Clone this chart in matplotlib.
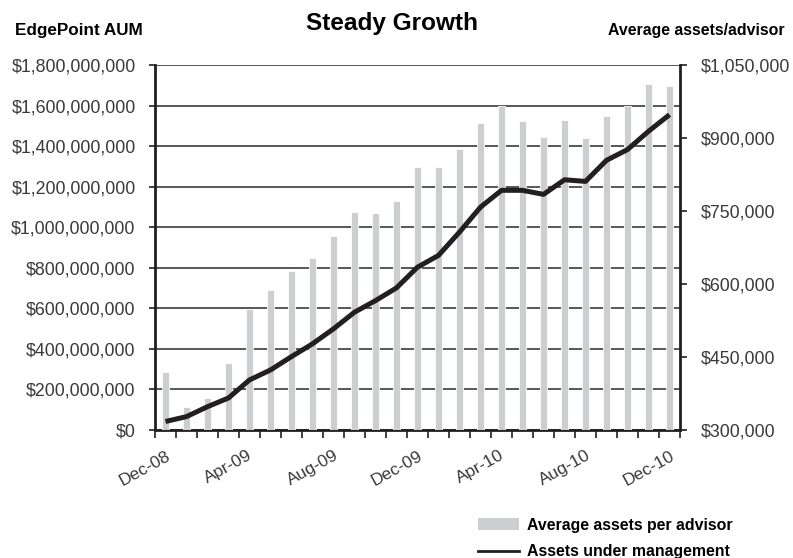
import matplotlib
matplotlib.use("Agg")
import matplotlib.pyplot as plt
import matplotlib.transforms as mtransforms
from matplotlib.ticker import FuncFormatter, MultipleLocator, FixedLocator
from matplotlib.patches import Patch
from matplotlib.lines import Line2D

months = ["Dec-08", "Jan-09", "Feb-09", "Mar-09", "Apr-09", "May-09", "Jun-09",
          "Jul-09", "Aug-09", "Sep-09", "Oct-09", "Nov-09", "Dec-09", "Jan-10",
          "Feb-10", "Mar-10", "Apr-10", "May-10", "Jun-10", "Jul-10", "Aug-10",
          "Sep-10", "Oct-10", "Nov-10", "Dec-10"]

# average assets per advisor ($)
avg_per_advisor = [420000, 347000, 366000, 438000, 548000, 587000, 627000,
                   654000, 699000, 748000, 745000, 771000, 840000, 840000,
                   878000, 930000, 965000, 934000, 903000, 938000, 900000,
                   945000, 965000, 1010000, 1006000]

# total assets under management ($)
aum = [42e6, 66e6, 115e6, 158e6, 247e6, 296e6, 362e6, 425e6, 499e6, 581e6,
       638e6, 701e6, 803e6, 861e6, 976e6, 1099e6, 1182e6, 1182e6, 1162e6,
       1234e6, 1226e6, 1330e6, 1383e6, 1473e6, 1555e6]

label_every = 4

BAR_GREY = "#cdcecf"
INK = "#231f20"
TEXT = "#3a3a3a"
HEAD_FONT = ["Liberation Sans Narrow", "Liberation Sans", "DejaVu Sans"]

plt.rcParams["font.family"] = ["Liberation Sans", "DejaVu Sans"]

fig = plt.figure(figsize=(7.93, 5.58), dpi=100)
rect = [155 / 793, 1 - 430 / 558, 525 / 793, 365 / 558]

x = list(range(len(months)))

# bottom layer: left scale, gridlines, x axis
ax = fig.add_axes(rect)
ax.set_xlim(-0.5, len(months) - 0.5)
ax.set_ylim(0, 1.8e9)
ax.yaxis.set_major_locator(MultipleLocator(2e8))
ax.yaxis.set_major_formatter(FuncFormatter(lambda v, p: f"${v:,.0f}"))
ax.grid(axis="y", color="#2a2a2a", linewidth=1.1)
ax.set_axisbelow(True)
for s in ("top", "right"):
    ax.spines[s].set_visible(False)
ax.spines["left"].set_linewidth(2)
ax.spines["bottom"].set_linewidth(2)
ax.spines["left"].set_color(INK)
ax.spines["bottom"].set_color(INK)
ax.tick_params(axis="y", length=4, width=1.2, color=INK, pad=10,
               labelsize=12.8, labelcolor=TEXT)

# month boundaries get tick marks, every fourth month gets a label
ax.xaxis.set_minor_locator(FixedLocator([i - 0.5 for i in range(len(months) + 1)]))
ax.xaxis.set_major_locator(FixedLocator(x[::label_every]))
ax.set_xticklabels(months[::label_every])
ax.tick_params(axis="x", which="minor", length=6, width=1.2, color=INK)
ax.tick_params(axis="x", which="major", length=0, pad=13, labelsize=12.5,
               labelcolor=TEXT)
shift = mtransforms.ScaledTranslation(-21 / 100, 0, fig.dpi_scale_trans)
for lab in ax.get_xticklabels():
    lab.set_rotation(29)
    lab.set_ha("center")
    lab.set_transform(lab.get_transform() + shift)

# middle layer: bars on the right scale
ax_bar = ax.twinx()
ax_bar.bar(x, avg_per_advisor, width=0.36, bottom=0, color=BAR_GREY,
           edgecolor="white", linewidth=0.6)
ax_bar.set_ylim(300000, 1050000)
ax_bar.yaxis.set_major_locator(MultipleLocator(150000))
ax_bar.yaxis.set_major_formatter(FuncFormatter(lambda v, p: f"${v:,.0f}"))
for s in ("top", "left", "bottom"):
    ax_bar.spines[s].set_visible(False)
ax_bar.spines["right"].set_linewidth(2)
ax_bar.spines["right"].set_color(INK)
ax_bar.tick_params(axis="y", length=5, width=1.2, color=INK, pad=10,
                   labelsize=12.8, labelcolor=TEXT)

# top layer: AUM line on the left scale
ax_line = ax.twinx()
ax_line.set_ylim(ax.get_ylim())
ax_line.plot(x, aum, color=INK, linewidth=3.6, solid_capstyle="butt")
ax_line.axis("off")

fig.text(0.019, 0.945, "EdgePoint AUM", family=HEAD_FONT, weight="bold",
         fontsize=12.3, color="black", va="center")
fig.text(0.494, 0.958, "Steady Growth", family=HEAD_FONT, weight="bold",
         fontsize=17.6, color="black", ha="center", va="center")
fig.text(0.99, 0.945, "Average assets/advisor", family=HEAD_FONT,
         weight="bold", fontsize=11.4, color="black", ha="right", va="center")

handles = [Patch(facecolor=BAR_GREY, edgecolor="none"),
           Line2D([], [], color=INK, linewidth=2)]
fig.legend(handles, ["Average assets per advisor", "Assets under management"],
           loc="lower left", bbox_to_anchor=(0.595, -0.014), frameon=False,
           prop={"family": HEAD_FONT, "weight": "bold", "size": 11.4},
           handlelength=2.6, handleheight=0.75, handletextpad=0.5,
           labelspacing=0.75, borderaxespad=0)

fig.savefig("out.png", dpi=100)
